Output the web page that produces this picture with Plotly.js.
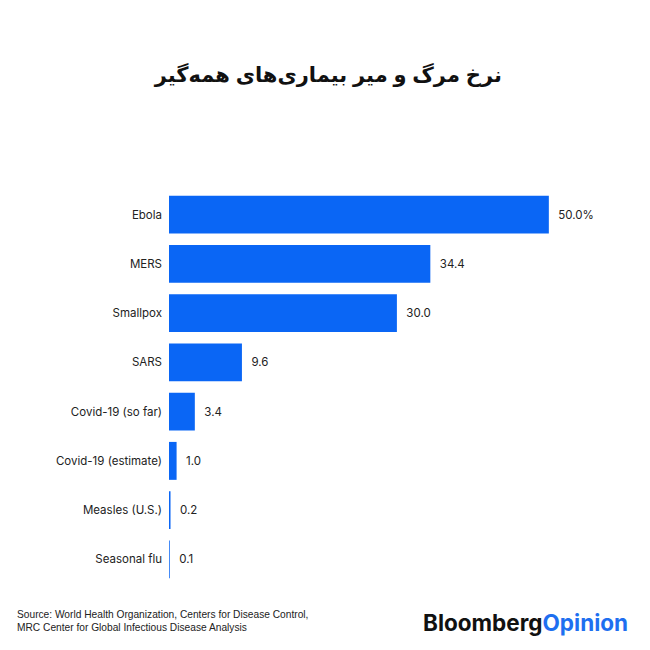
<!DOCTYPE html>
<html>
<head>
<meta charset="utf-8">
<script src="https://cdn.plot.ly/plotly-3.0.1.min.js"></script>
<style>html,body{margin:0;padding:0;background:#fff;}#chart{width:650px;height:650px;}</style>
</head>
<body>
<div id="chart"></div>
<script>
const categories = ["Ebola","MERS","Smallpox","SARS","Covid-19 (so far)","Covid-19 (estimate)","Measles (U.S.)","Seasonal flu"];
const values = [50.0, 34.4, 30.0, 9.6, 3.4, 1.0, 0.2, 0.1];
const valueLabels = ["50.0%","34.4","30.0","9.6","3.4","1.0","0.2","0.1"];
const titleText = "نرخ مرگ و میر بیماری‌های همه‌گیر";
const sourceLines = ["Source: World Health Organization, Centers for Disease Control,", "MRC Center for Global Infectious Disease Analysis"];

const trace = {
  type: "bar",
  orientation: "h",
  x: values,
  y: categories,
  text: valueLabels,
  texttemplate: "\u00a0\u00a0%{text}",
  textposition: "outside",
  cliponaxis: false,
  textfont: {family: "Inter, 'Liberation Sans', sans-serif", size: 11.5, color: "#222"},
  marker: {color: "#0a66f5", line: {width: 0}},
  hoverinfo: "skip"
};

const layout = {
  width: 650, height: 650,
  margin: {l: 169, r: 10, t: 190, b: 66},
  paper_bgcolor: "#ffffff",
  plot_bgcolor: "#ffffff",
  bargap: 0.23,
  showlegend: false,
  title: {text: "<b>" + titleText + "</b>", x: 0.505, xanchor: "center", y: 0.885, yanchor: "middle",
          font: {family: "'Liberation Sans', 'DejaVu Sans', sans-serif", size: 21, color: "#111"}},
  xaxis: {range: [0, 62], visible: false, fixedrange: true},
  yaxis: {autorange: "reversed", showgrid: false, zeroline: false, showline: false,
          ticks: "", ticklabelstandoff: 6,
          tickfont: {family: "Inter, 'Liberation Sans', sans-serif", size: 11.5, color: "#222"}},
  annotations: [
    {text: sourceLines.join("<br>"), xref: "paper", yref: "paper", x: -169/471 + 15/471, xanchor: "left",
     y: -0.058, yanchor: "top", align: "left", showarrow: false,
     font: {family: "'Liberation Sans Narrow', 'Liberation Sans', sans-serif", size: 10.2, color: "#222"}},
    {text: "<b>Bloomberg</b><b><span style='color:#1e6ff0'>Opinion</span></b>", xref: "paper", yref: "paper",
     x: 1 - 10/471, xanchor: "right", y: -0.098, yanchor: "middle", showarrow: false,
     font: {family: "Inter, 'Liberation Sans', sans-serif", size: 22.5, color: "#111"}}
  ]
};

Plotly.newPlot("chart", [trace], layout, {displayModeBar: false, staticPlot: true});
</script>
</body>
</html>
